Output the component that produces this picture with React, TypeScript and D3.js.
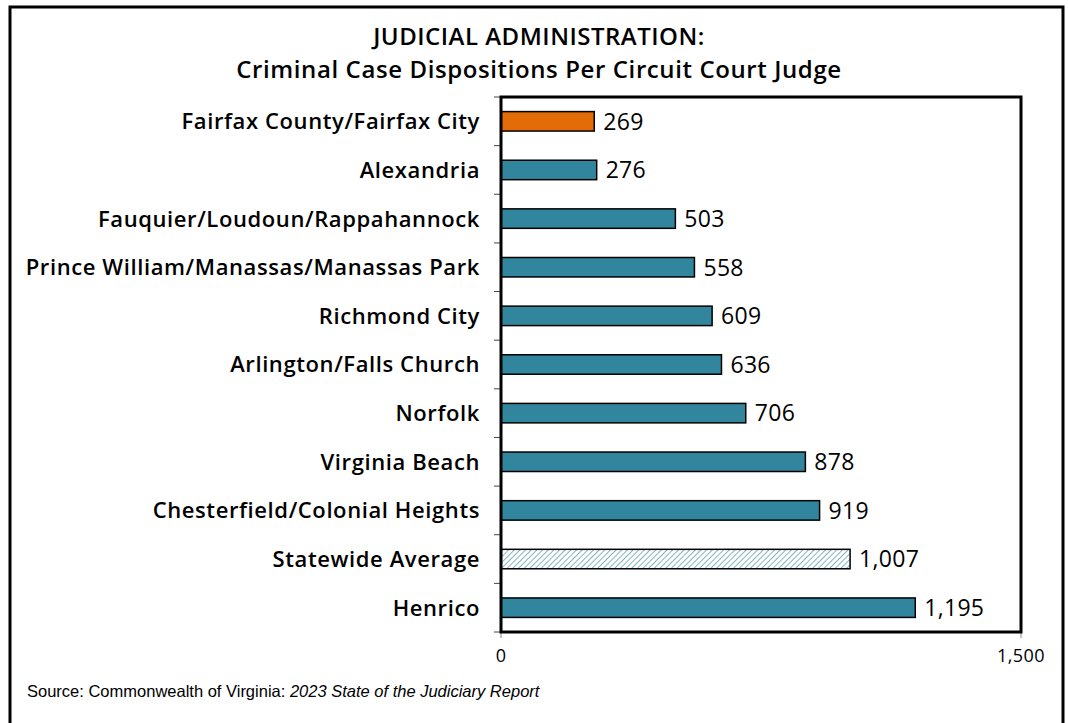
import React from "react";
import * as d3 from "d3";

const categories = [
  "Fairfax County/Fairfax City",
  "Alexandria",
  "Fauquier/Loudoun/Rappahannock",
  "Prince William/Manassas/Manassas Park",
  "Richmond City",
  "Arlington/Falls Church",
  "Norfolk",
  "Virginia Beach",
  "Chesterfield/Colonial Heights",
  "Statewide Average",
  "Henrico",
];
const values = [269, 276, 503, 558, 609, 636, 706, 878, 919, 1007, 1195];
const kinds = ["highlight", "normal", "normal", "normal", "normal", "normal", "normal", "normal", "normal", "average", "normal"];
const xTicks = [0, 1500];

const W = 1068, H = 723;
const M = { left: 501, right: 1021, top: 97, bottom: 632 };
const FONT = "'Open Sans', 'Roboto', sans-serif";

export default function App() {
  const x = d3.scaleLinear().domain([0, 1500]).range([M.left, M.right]);
  const y = d3.scaleBand<string>().domain(categories).range([M.top, M.bottom]).paddingInner(0.6).paddingOuter(0.3);
  const yb = d3.scaleBand<string>().domain(categories).range([M.top, M.bottom]);
  const fmt = d3.format(",");
  const fill = (k: string) => (k === "highlight" ? "#E36C09" : k === "average" ? "url(#hatch)" : "#31869E");
  return (
    <svg width={W} height={H} style={{ position: "absolute", left: 0, top: 0 }}>
      <defs>
        <pattern id="hatch" width="4" height="4" patternUnits="userSpaceOnUse" patternTransform="rotate(45)">
          <rect width="4" height="4" fill="#ffffff" />
          <line x1="0" y1="0" x2="0" y2="4" stroke="#5fa3b8" strokeWidth="1.6" />
        </pattern>
      </defs>
      <rect x={0} y={0} width={W} height={H} fill="#fff" />
      <rect x={10} y={7} width={1053} height={730} fill="none" stroke="#000" strokeWidth={3} />
      <text x={539} y={45} textAnchor="middle" fontFamily={FONT} fontWeight={600} fontSize={24} letterSpacing={0.5} fill="#000">
        JUDICIAL ADMINISTRATION:
      </text>
      <text x={539} y={78} textAnchor="middle" fontFamily={FONT} fontWeight={600} fontSize={24} letterSpacing={0.6} fill="#000">
        Criminal Case Dispositions Per Circuit Court Judge
      </text>
      {categories.map((c) => (
        <line key={"t" + c} x1={M.left - 7} x2={M.left} y1={yb(c)!} y2={yb(c)!} stroke="#444" strokeWidth={1} />
      ))}
      <line x1={M.left - 7} x2={M.left} y1={M.bottom} y2={M.bottom} stroke="#444" strokeWidth={1} />
      {xTicks.map((t) => (
        <line key={"xt" + t} x1={x(t)} x2={x(t)} y1={M.bottom} y2={M.bottom + 6} stroke="#888" strokeWidth={1} />
      ))}
      {categories.map((c, i) => (
        <g key={c}>
          <rect x={x(0)} y={y(c)!} width={x(values[i]) - x(0)} height={y.bandwidth()} fill={fill(kinds[i])} stroke="#000" strokeWidth={1.5} />
          <text x={x(values[i]) + 9} y={y(c)! + y.bandwidth() / 2} dy="0.36em" fontFamily={FONT} fontWeight={500} fontSize={23} letterSpacing={0.3} fill="#000">
            {fmt(values[i])}
          </text>
          <text x={480} y={y(c)! + y.bandwidth() / 2} dy="0.36em" textAnchor="end" fontFamily={FONT} fontWeight={600} fontSize={22} letterSpacing={0.6} fill="#000">
            {c}
          </text>
        </g>
      ))}
      <rect x={M.left} y={M.top} width={M.right - M.left} height={M.bottom - M.top} fill="none" stroke="#000" strokeWidth={3} />
      {xTicks.map((t) => (
        <text key={"xl" + t} x={x(t)} y={662} textAnchor="middle" fontFamily={FONT} fontWeight={500} fontSize={18} letterSpacing={0.4} fill="#000">
          {fmt(t)}
        </text>
      ))}
      <text x={27} y={697} fontFamily="'Liberation Sans', 'Arial', sans-serif" fontSize={16.5} fill="#000">
        Source: Commonwealth of Virginia: <tspan fontStyle="italic">2023 State of the Judiciary Report</tspan>
      </text>
    </svg>
  );
}
